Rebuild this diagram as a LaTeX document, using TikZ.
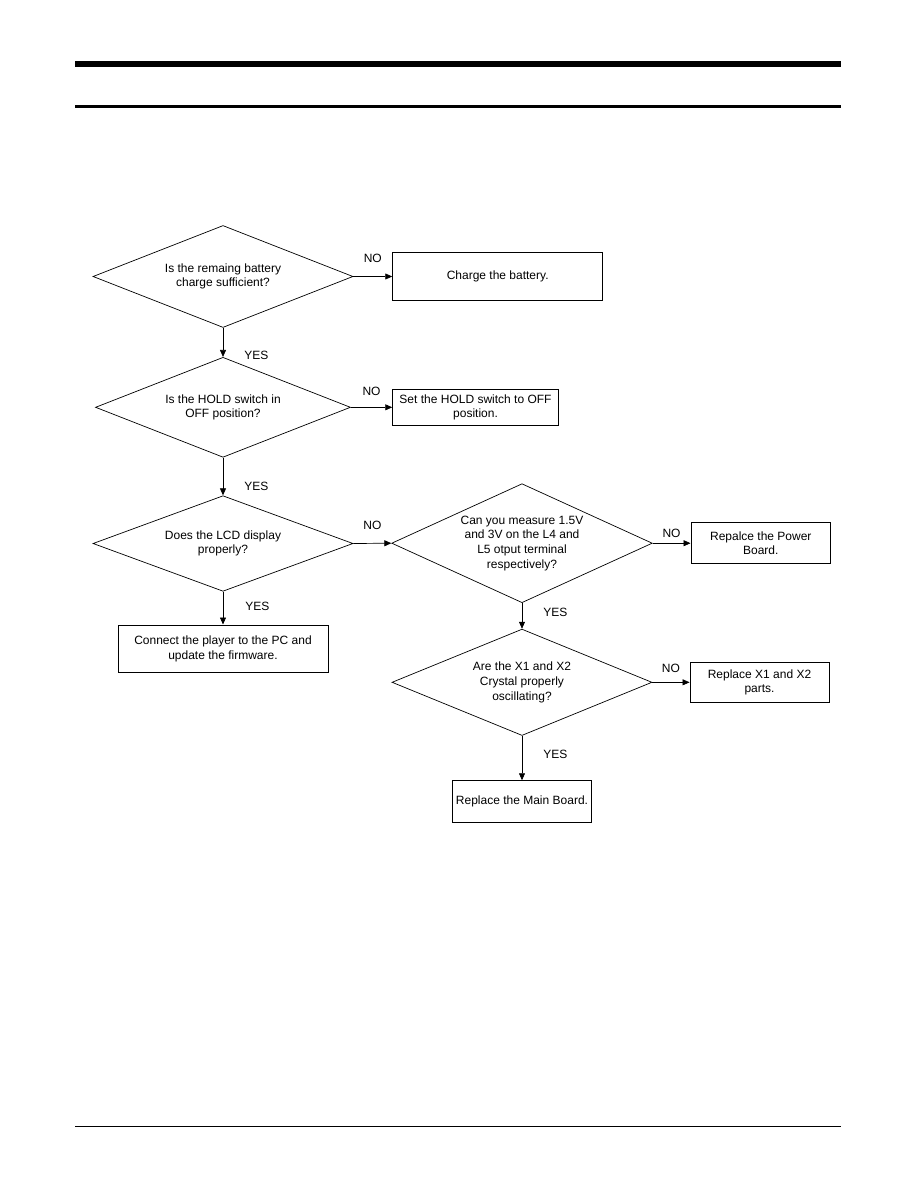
\documentclass[tikz,border=0pt]{standalone}
\usepackage{fontspec}
\setmainfont{Liberation Sans}
\usepackage{tikz}
\usetikzlibrary{positioning,arrows.meta,shapes.geometric}

\begin{document}
\begin{tikzpicture}[x=1pt,y=-1pt,
  every node/.style={font=\fontsize{12}{14.7}\selectfont},
  decision/.style={diamond,draw,line width=0.7pt,inner sep=0pt,align=center,minimum width=260pt,aspect=2.5},
  action/.style={rectangle,draw,line width=0.9pt,inner sep=0pt,align=center},
  flow/.style={line width=0.7pt,-{Triangle[length=7pt,width=6pt]}},
  lbl/.style={inner sep=0pt}]
  \useasboundingbox (0,0) rectangle (918,1190);
  % page rules
  \fill (75,61) rectangle (841,67);
  \fill (75,105) rectangle (841,108);
  \draw[line width=1.3pt] (75,1126.5) -- (841,1126.5);
  % left column
  \node[decision,minimum height=102pt] (battery) at (223,276.5) {Is the remaing battery\\charge sufficient?};
  \node[action,minimum width=210pt,minimum height=47.7pt] (charge) at (497.7,276.5) {Charge the battery.};
  \node[decision,minimum width=255pt,minimum height=100pt] (hold) at (223,407.3) {Is the HOLD switch in\\OFF position?};
  \node[action,minimum width=165.6pt,minimum height=36.3pt] (holdoff) at (475.5,407.3) {Set the HOLD switch to OFF\\position.};
  \node[decision,minimum height=95.6pt] (lcd) at (223,543.5) {Does the LCD display\\properly?};
  \node[action,minimum width=210pt,minimum height=47.7pt] (connect) at (223,648.8) {Connect the player to the PC and\\update the firmware.};
  % right column
  \node[decision,minimum width=260.6pt,minimum height=119pt,aspect=2.2] (measure) at (522,543.2) {Can you measure 1.5V\\and 3V on the L4 and\\L5 otput terminal\\respectively?};
  \node[action,minimum width=139.7pt,minimum height=41pt] (power) at (760.8,543.2) {Repalce the Power\\Board.};
  \node[decision,minimum height=106.4pt,aspect=2.45] (crystal) at (522,682.3) {Are the X1 and X2\\Crystal properly\\oscillating?};
  \node[action,minimum width=139pt,minimum height=40.6pt] (xparts) at (759.5,682.3) {Replace X1 and X2\\parts.};
  \node[action,minimum width=138.3pt,minimum height=42pt] (mainboard) at (522,801.7) {Replace the Main Board.};

  \draw[flow] (battery.east) -- node[lbl,above=13.2pt] (no1) {NO} (charge.west);
  \draw[flow] (battery.south) -- node[lbl,pos=0.96,right=21pt] (yes1) {YES} (hold.north);
  \draw[flow] (hold.east) -- node[lbl,above=11pt] (no2) {NO} (holdoff.west);
  \draw[flow] (hold.south) -- node[lbl,pos=0.75,right=21pt] (yes2) {YES} (lcd.north);
  \draw[flow] (lcd.east) -- node[lbl,above=13.2pt] (no3) {NO} (measure.west);
  \draw[flow] (lcd.south) -- node[lbl,pos=0.45,right=22pt] (yes3) {YES} (connect.north);
  \draw[flow] (measure.east) -- node[lbl,above=5.4pt] (no4) {NO} (power.west);
  \draw[flow] (measure.south) -- node[lbl,pos=0.37,right=21pt] (yes4) {YES} (crystal.north);
  \draw[flow] (crystal.east) -- node[lbl,above=9.7pt] (no5) {NO} (xparts.west);
  \draw[flow] (crystal.south) -- node[lbl,pos=0.42,right=21pt] (yes5) {YES} (mainboard.north);
\end{tikzpicture}
\end{document}
